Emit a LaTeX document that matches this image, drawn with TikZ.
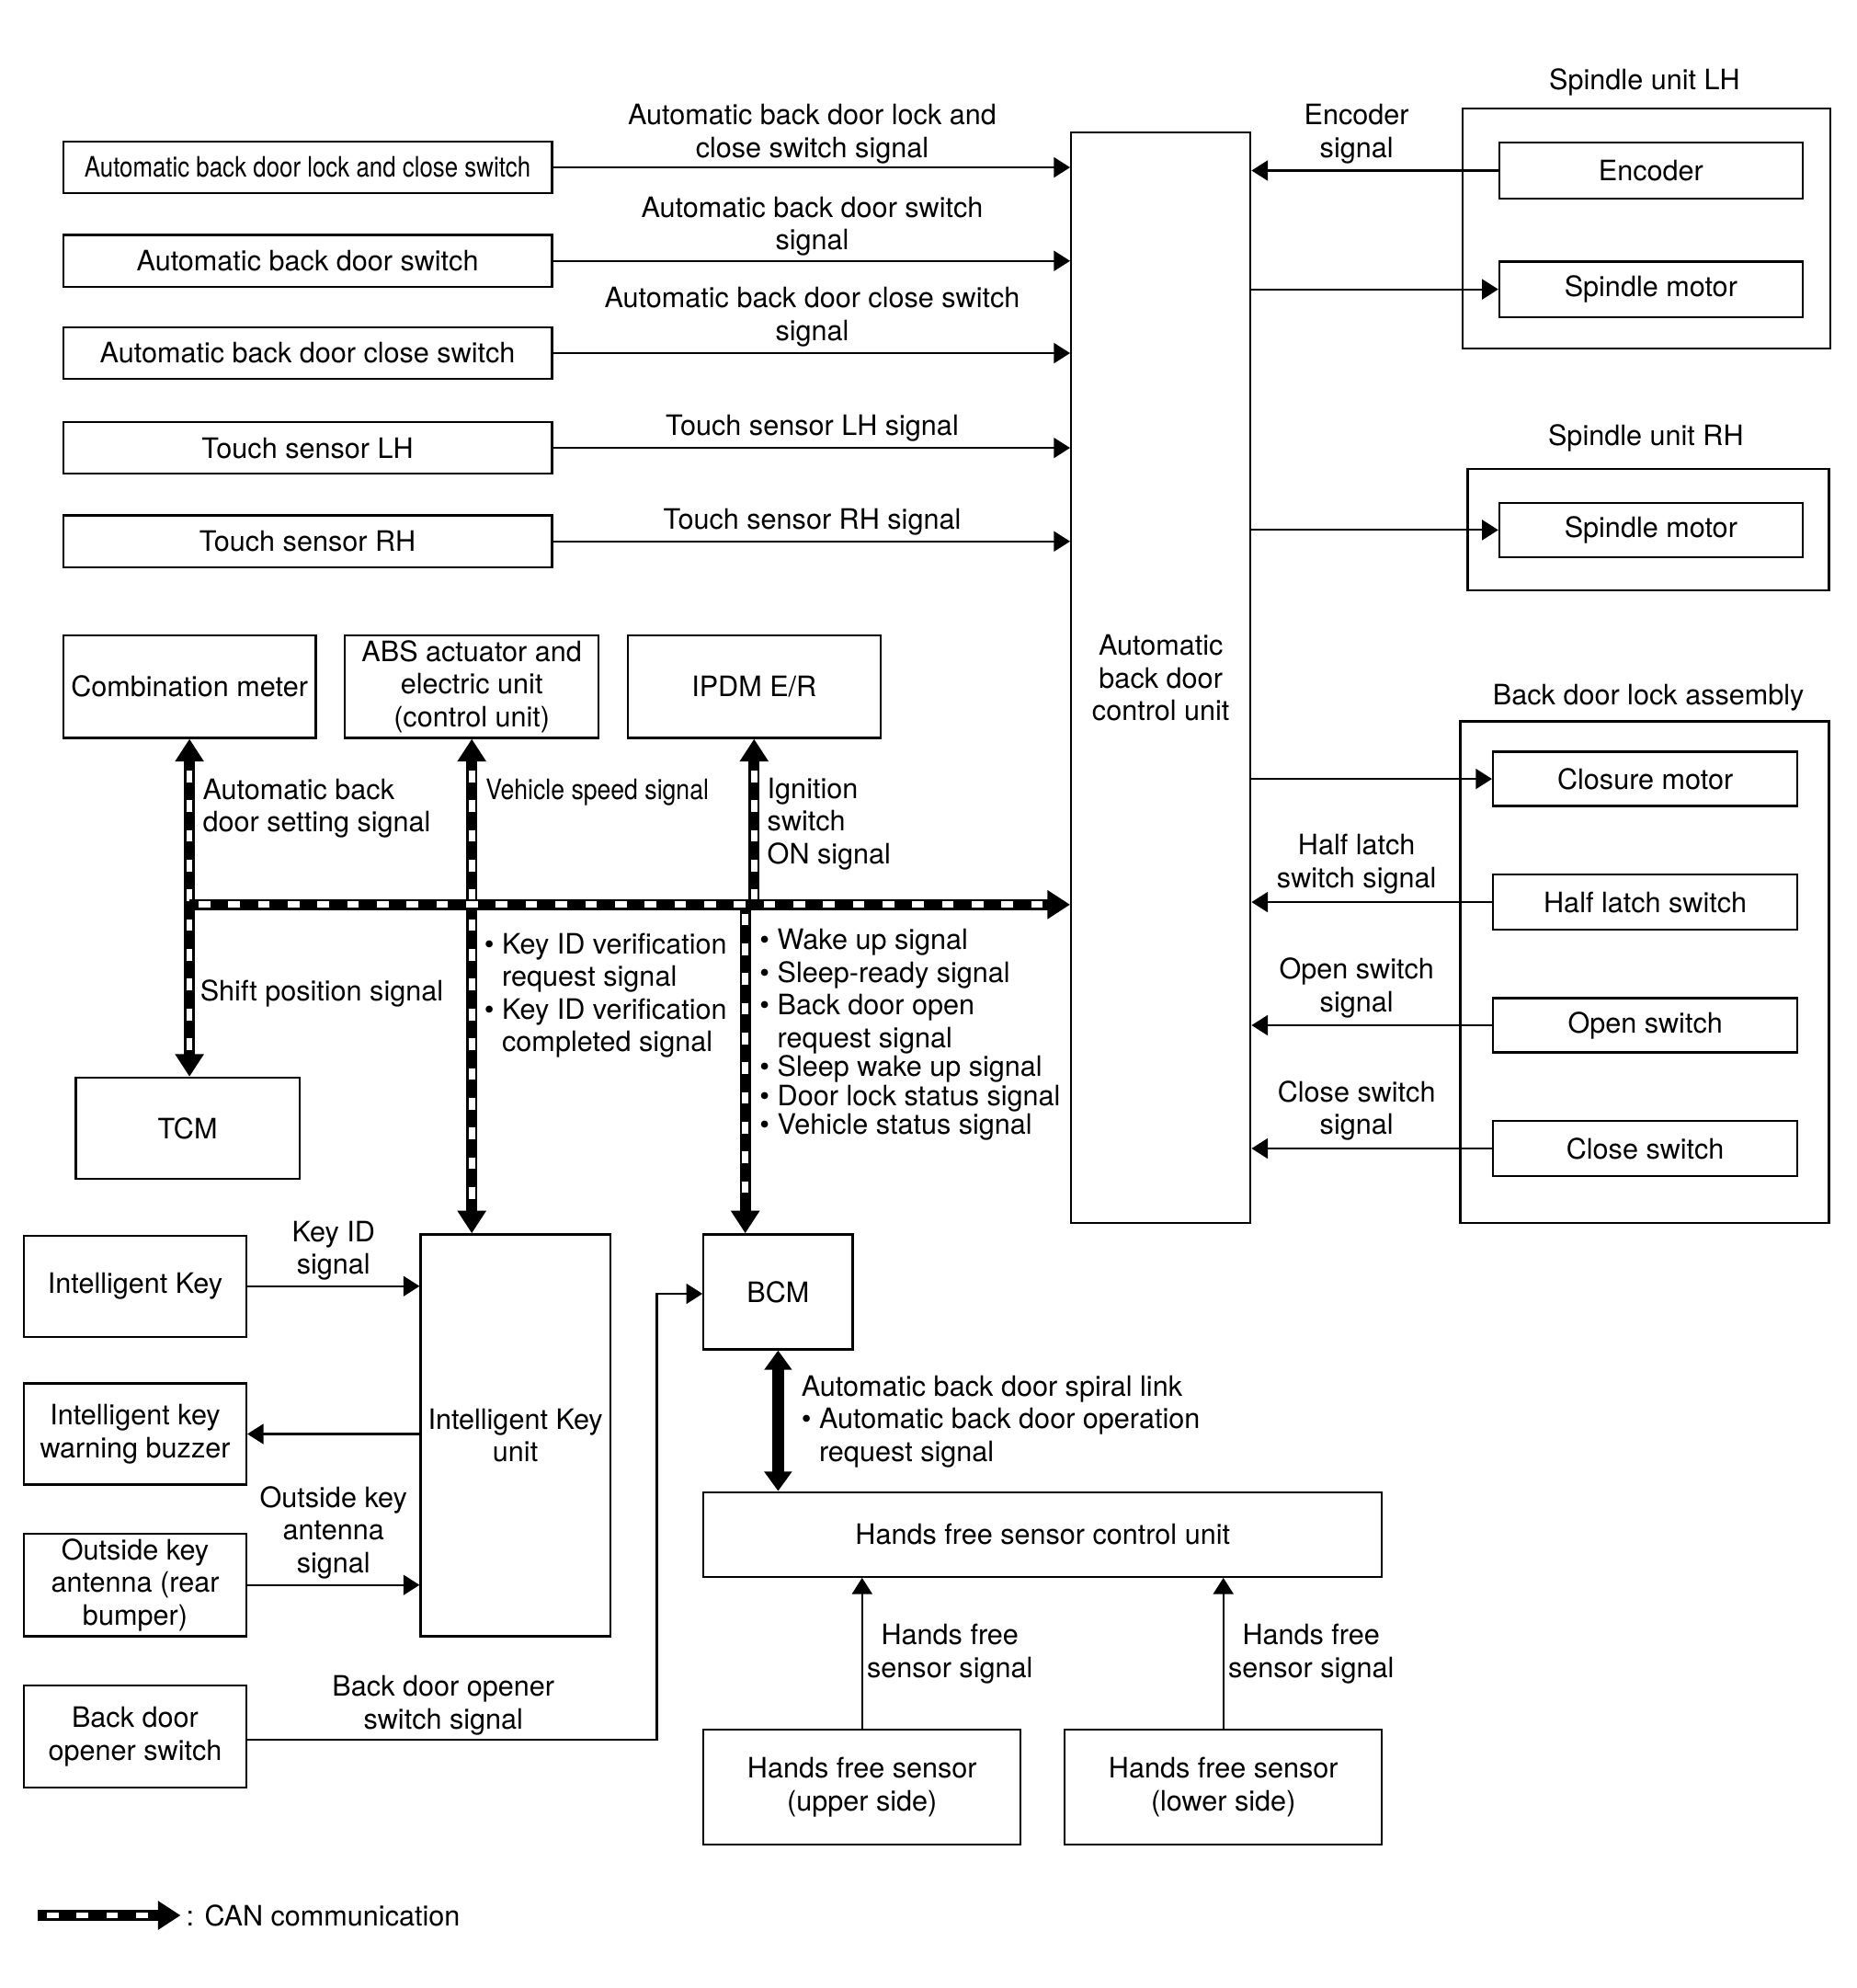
\documentclass[tikz,border=0pt]{standalone}
\usepackage{fontspec}
\setmainfont{TeX Gyre Heros}
\usetikzlibrary{arrows.meta}
\newcommand\bx[6]{\node[box,minimum width={(#4-#2)*0.01374cm},minimum height={(#5-#3)*0.01374cm}] (#1) at ({(#2+#4)/2},{(#3+#5)/2}) {#6};}
\newcommand\bul{\textbullet\ }
\newcommand\nob{\phantom{\textbullet\ }}
\begin{document}
\begin{tikzpicture}[x=0.01374cm,y=-0.01374cm,
  font=\fontsize{8.7}{10.1}\selectfont,
  box/.style={draw,line width=0.65pt,inner sep=0pt,align=center},
  lbl/.style={inner sep=0pt,align=center},
  lbll/.style={inner sep=0pt,align=left,anchor=west},
  sig/.style={line width=0.6pt,-{Triangle[length=5pt,width=6.2pt]}},
  canwhite/.style={draw=white,-,line width=1.9pt,dash pattern=on 0pt off 2.8pt on 3.6pt off 2.8pt},
  canboth/.style={line width=3.4pt,{Triangle[length=7pt,width=8.5pt]}-{Triangle[length=7pt,width=8.5pt]},
     postaction={canwhite,shorten <=7pt,shorten >=7pt}},
  canend/.style={line width=3.4pt,-{Triangle[length=7pt,width=8.5pt]},
     postaction={canwhite,shorten >=7pt}},
  canstart/.style={line width=3.4pt,{Triangle[length=7pt,width=8.5pt]}-,
     postaction={canwhite,shorten <=7pt}},
  thk/.style={line width=3.6pt,{Triangle[length=6pt,width=8.2pt]}-{Triangle[length=6pt,width=8.2pt]}}
]
\useasboundingbox (0,0) rectangle (1470,1573.5);
\fill[white] (0,0) rectangle (1470,1573.5);

% left switch column
\bx{s1}{50}{112}{437}{153}{\scalebox{0.845}[1]{Automatic back door lock and close switch}}
\bx{s2}{50}{186}{437}{227}{Automatic back door switch}
\bx{s3}{50}{259}{437}{300}{Automatic back door close switch}
\bx{s4}{50}{334}{437}{375}{Touch sensor LH}
\bx{s5}{50}{408}{437}{449}{Touch sensor RH}

% control unit
\bx{cu}{848}{105}{990}{968}{Automatic\\back door\\control unit}

% spindle units
\bx{spl}{1158}{86}{1449}{276}{}
\bx{enc}{1187}{113}{1427}{157}{Encoder}
\bx{sm1}{1187}{207}{1427}{251}{Spindle motor}
\bx{spr}{1162}{371}{1448}{467}{}
\bx{sm2}{1187}{398}{1427}{441}{Spindle motor}

% back door lock assembly
\bx{bdl}{1156}{571}{1448}{968}{}
\bx{clm}{1182}{595}{1423}{638}{Closure motor}
\bx{hls}{1182}{692}{1423}{736}{Half latch switch}
\bx{ops}{1182}{790}{1423}{833}{Open switch}
\bx{cls}{1182}{887}{1423}{931}{Close switch}

% CAN units
\bx{cm}{50}{503}{250}{584}{Combination meter}
\bx{abs}{273}{503}{474}{584}{ABS actuator and\\electric unit\\(control unit)}
\bx{ipdm}{497}{503}{697}{584}{IPDM E/R}
\bx{tcm}{60}{853}{237}{933}{TCM}
\bx{iku}{333}{977}{483}{1295}{Intelligent Key\\unit}
\bx{bcm}{557}{977}{675}{1068}{BCM}

% bottom left
\bx{ik}{19}{978}{195}{1058}{Intelligent Key}
\bx{buz}{19}{1095}{195}{1175}{Intelligent key\\warning buzzer}
\bx{ant}{19}{1214}{195}{1295}{Outside key\\antenna (rear\\bumper)}
\bx{bdo}{19}{1334}{195}{1415}{Back door\\opener switch}

% hands free
\bx{hfc}{557}{1181}{1094}{1248}{Hands free sensor control unit}
\bx{hfu}{557}{1369}{808}{1460}{Hands free sensor\\(upper side)}
\bx{hfl}{843}{1369}{1094}{1460}{Hands free sensor\\(lower side)}

% signal arrows to control unit
\foreach \s in {s1,s2,s3,s4,s5}{\draw[sig] (\s.east) -- (\s.east -| cu.west);}
\draw[sig] (enc.west) -- (enc.west -| cu.east);
\draw[sig] (sm1.west -| cu.east) -- (sm1.west);
\draw[sig] (sm2.west -| cu.east) -- (sm2.west);
\draw[sig] (clm.west -| cu.east) -- (clm.west);
\draw[sig] (hls.west) -- (hls.west -| cu.east);
\draw[sig] (ops.west) -- (ops.west -| cu.east);
\draw[sig] (cls.west) -- (cls.west -| cu.east);

% intelligent key connectors
\draw[sig] (ik.east) -- (ik.east -| iku.west);
\draw[sig] (buz.east -| iku.west) -- (buz.east);
\draw[sig] (ant.east) -- (ant.east -| iku.west);
\coordinate (j1) at (520,1377);
\coordinate (j2) at (520,1024);
\draw[sig] (bdo.east |- j1) -- (j1) -- (j2) -- (j2 -| bcm.west);

% hands free connectors
\draw[sig] (hfu.north) -- (hfu.north |- hfc.south);
\draw[sig] (hfl.north) -- (hfl.north |- hfc.south);
\draw[thk] (bcm.south) -- (bcm.south |- hfc.north);

% CAN lines
\coordinate (b0) at (150,716);
\coordinate (bj) at (590,716);
\draw[canboth] (cm.south) -- (cm.south |- tcm.north);
\draw[canboth] (abs.south) -- (abs.south |- iku.north);
\draw[canstart] (ipdm.south) -- (ipdm.south |- b0);
\draw[canend] (bj) -- (bj |- bcm.north);
\draw[canend] (b0) -- (b0 -| cu.west);

% labels
\node[lbl] (t1) at (643,106) {Automatic back door lock and\\close switch signal};
\node[lbl] (t2) at (643,179) {Automatic back door switch\\signal};
\node[lbl] (t3) at (643,251) {Automatic back door close switch\\signal};
\node[lbl] (t4) at (643,339) {Touch sensor LH signal};
\node[lbl] (t5) at (643,413) {Touch sensor RH signal};
\node[lbl] (tenc) at (1074,106) {Encoder\\signal};
\node[lbl] (hspl) at (1302,65) {Spindle unit LH};
\node[lbl] (hspr) at (1303,347) {Spindle unit RH};
\node[lbl] (hbdl) at (1305,552) {Back door lock assembly};
\node[lbl] (thl) at (1074,684) {Half latch\\switch signal};
\node[lbl] (tos) at (1074,782) {Open switch\\signal};
\node[lbl] (tcs) at (1074,879) {Close switch\\signal};

\node[lbll] (tads) at (160,640) {Automatic back\\door setting signal};
\node[lbll] (tvs) at (384,627) {\scalebox{0.87}[1]{Vehicle speed signal}};
\node[lbll] (tig) at (607,652) {Ignition\\switch\\ON signal};
\node[lbll] (tsp) at (158,786) {Shift position signal};
\node[lbll] (tkid) at (383,788) {\bul Key ID verification\\\nob request signal\\\bul Key ID verification\\\nob completed signal};
\node[lbll] (tbcm) at (601,819) {\bul Wake up signal\\\bul Sleep-ready signal\\\bul Back door open\\\nob request signal\\[-1.2pt]\bul Sleep wake up signal\\[-1.2pt]\bul Door lock status signal\\[-1.2pt]\bul Vehicle status signal};

\node[lbl] (tkey) at (264,990) {Key ID\\signal};
\node[lbl] (toka) at (264,1213) {Outside key\\antenna\\signal};
\node[lbl] (tbdo) at (351,1350) {Back door opener\\switch signal};
\node[lbll] (tspl) at (634,1125) {Automatic back door spiral link\\\bul Automatic back door operation\\\nob request signal};
\node[lbl] (thf1) at (752,1309) {Hands free\\sensor signal};
\node[lbl] (thf2) at (1038,1309) {Hands free\\sensor signal};

% legend
\coordinate (lg0) at (30,1516);
\coordinate (lg1) at (143,1516);
\draw[canend] (lg0) -- (lg1);
\node[lbll] (lgt) at (147,1516) {: CAN communication};
\end{tikzpicture}
\end{document}
